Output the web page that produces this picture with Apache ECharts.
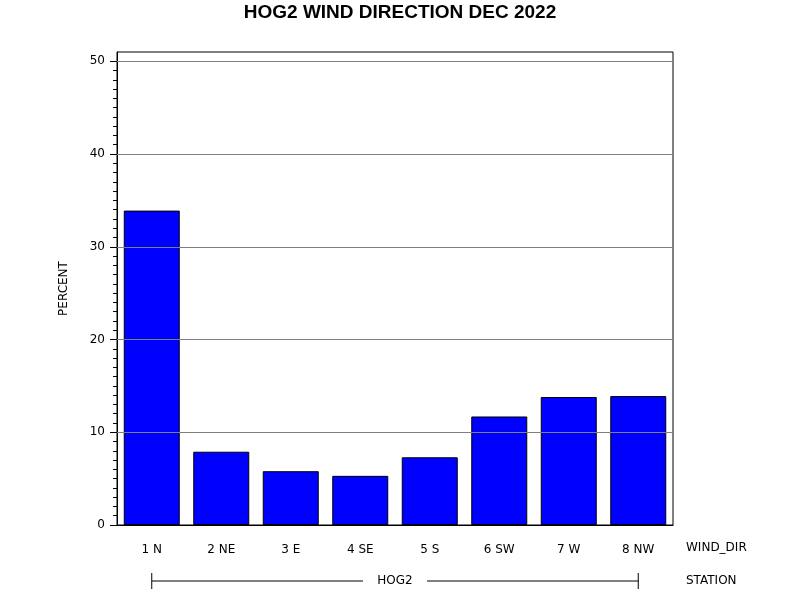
<!DOCTYPE html>
<html>
<head>
<meta charset="utf-8">
<script src="https://cdn.jsdelivr.net/npm/echarts@6/dist/echarts.min.js"></script>
<style>html,body{margin:0;padding:0;background:#fff}#c{width:800px;height:600px}</style>
</head>
<body>
<div id="c"></div>
<script>
const titleText = 'HOG2 WIND DIRECTION DEC 2022';
const categories = ['1 N', '2 NE', '3 E', '4 SE', '5 S', '6 SW', '7 W', '8 NW'];
const percent = [33.9, 7.9, 5.8, 5.3, 7.3, 11.7, 13.8, 13.9];
const majorTicks = [0, 10, 20, 30, 40, 50];
const minorTicks = [];
for (let v = 1; v < 50; v++) if (v % 10 !== 0) minorTicks.push(v);
const gridLines = [10, 20, 30, 40, 50];
const stationName = 'HOG2';
const yName = 'PERCENT';
const xName = 'WIND_DIR';
const stationLabel = 'STATION';

const FONT = 'DejaVu Sans';
const FS = 12;
const chart = echarts.init(document.getElementById('c'));
const GRID = {left: 117, right: 127, top: 52, bottom: 75};

chart.setOption({
  animation: false,
  backgroundColor: '#fff',
  title: {
    text: titleText, left: 'center', top: -2,
    textStyle: {fontFamily: 'Liberation Sans', fontWeight: 'bold', fontSize: 19, color: '#000'}
  },
  grid: Object.assign({show: true, borderColor: '#000', borderWidth: 1, backgroundColor: 'transparent'}, GRID),
  xAxis: {
    type: 'category', data: categories,
    axisLine: {show: true, lineStyle: {color: '#000', width: 1}},
    axisTick: {show: false},
    axisLabel: {margin: 19, fontFamily: FONT, fontSize: FS, color: '#000'},
    splitLine: {show: false}
  },
  yAxis: [{
    type: 'value', min: 0, max: 51,
    name: yName, nameLocation: 'middle', nameRotate: 90, nameGap: 47,
    nameTextStyle: {fontFamily: FONT, fontSize: FS, color: '#000'},
    axisLine: {show: true, lineStyle: {color: '#000', width: 1}},
    axisTick: {show: true, length: 7, lineStyle: {color: '#000'}, customValues: majorTicks},
    axisLabel: {margin: 12, fontFamily: FONT, fontSize: FS, color: '#000', customValues: majorTicks},
    splitLine: {show: false}
  }, {
    type: 'value', min: 0, max: 51, position: 'left',
    axisLine: {show: false},
    axisTick: {show: true, length: 4, lineStyle: {color: '#000'}, customValues: minorTicks},
    axisLabel: {show: false},
    splitLine: {show: false}
  }],
  series: [{
    type: 'bar', data: percent, barWidth: 56,
    itemStyle: {color: '#0000ff', borderColor: '#000', borderWidth: 1},
    markLine: {
      silent: true, symbol: 'none', animation: false,
      label: {show: false},
      lineStyle: {color: '#808080', type: 'solid', width: 1},
      data: gridLines.map(v => ({yAxis: v}))
    }
  }]
});

function drawExtras() {
  const x1 = chart.convertToPixel({xAxisIndex: 0}, categories[0]);
  const x2 = chart.convertToPixel({xAxisIndex: 0}, categories[categories.length - 1]);
  const y0 = chart.convertToPixel({yAxisIndex: 0}, 0);
  const xr = 800 - GRID.right;
  const lineY = y0 + 56;
  const labY = y0 + 23;
  const mid = (x1 + x2) / 2;
  const ts = {fontFamily: FONT, fontSize: FS, fill: '#000', verticalAlign: 'middle'};
  chart.setOption({
    graphic: [
      {type: 'text', x: xr + 13, y: labY, style: Object.assign({text: xName}, ts)},
      {type: 'text', x: xr + 13, y: lineY, style: Object.assign({text: stationLabel}, ts)},
      {type: 'text', x: mid, y: lineY, style: Object.assign({text: stationName, align: 'center'}, ts)},
      {type: 'line', shape: {x1: x1, y1: lineY, x2: mid - 32, y2: lineY}, style: {stroke: '#000', lineWidth: 1}},
      {type: 'line', shape: {x1: mid + 32, y1: lineY, x2: x2, y2: lineY}, style: {stroke: '#000', lineWidth: 1}},
      {type: 'line', shape: {x1: x1, y1: lineY - 8, x2: x1, y2: lineY + 8}, style: {stroke: '#000', lineWidth: 1}},
      {type: 'line', shape: {x1: x2, y1: lineY - 8, x2: x2, y2: lineY + 8}, style: {stroke: '#000', lineWidth: 1}}
    ]
  });
}
drawExtras();
</script>
</body>
</html>
